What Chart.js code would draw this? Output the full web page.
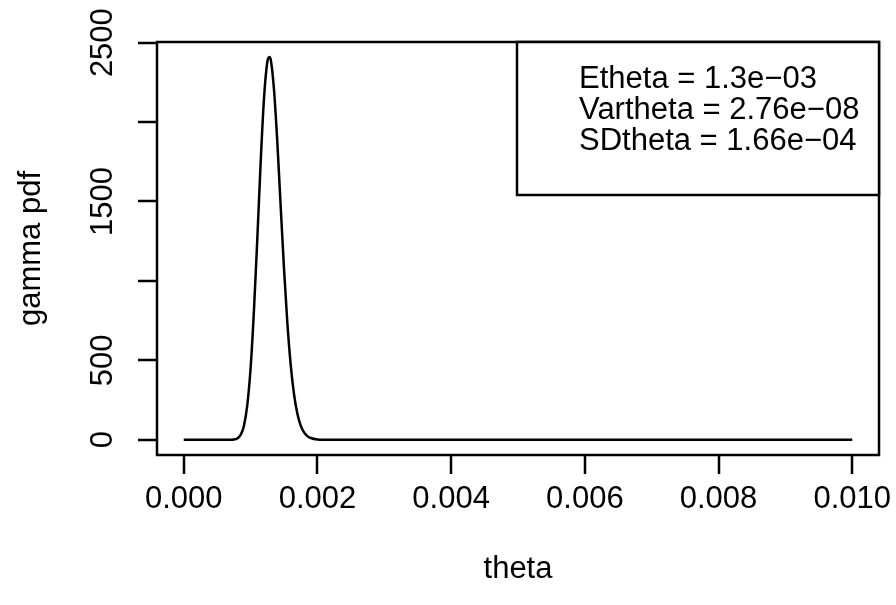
<!DOCTYPE html>
<html>
<head>
<meta charset="utf-8">
<script src="https://cdn.jsdelivr.net/npm/chart.js@4"></script>
<style>
  html, body { margin: 0; padding: 0; background: #fff; }
  canvas { display: block; }
</style>
</head>
<body>
<canvas id="gammaChart" width="896" height="605"></canvas>
<script>
// curve (theta, density)
const thetaVals = [0, 0.0005, 0.0006, 0.0007, 0.00075, 0.0008, 0.00085, 0.0009, 0.00095,
  0.001, 0.00105, 0.0011, 0.00115, 0.0012, 0.00125, 0.00128, 0.0013, 0.00135, 0.0014,
  0.00145, 0.0015, 0.00155, 0.0016, 0.00165, 0.0017, 0.00175, 0.0018, 0.00185, 0.0019,
  0.002, 0.0021, 0.0025, 0.003, 0.005, 0.0075, 0.01];
const pdfVals = [0, 0, 0, 0.3, 2, 8, 30, 87, 217,
  450, 812, 1260, 1740, 2145, 2378, 2410, 2395, 2205, 1872,
  1470, 1075, 735, 472, 286, 164, 89, 46, 23, 11,
  2, 0.4, 0, 0, 0, 0, 0];

const xTicks = [0, 0.002, 0.004, 0.006, 0.008, 0.010];
const xTickLabels = ['0.000', '0.002', '0.004', '0.006', '0.008', '0.010'];
const yTicks = [0, 500, 1000, 1500, 2000, 2500];
const yTickLabels = ['0', '500', '', '1500', '', '2500']; // R drops the ones that collide

const xTitle = 'theta';
const yTitle = 'gamma pdf';
const legendLines = ['Etheta = 1.3e\u221203', 'Vartheta = 2.76e\u221208', 'SDtheta = 1.66e\u221204'];

const FONT = '31px "Liberation Sans", Arial, sans-serif';
const LW = 2.5;

// base-R style box, ticks, labels and legend
const rAxes = {
  id: 'rAxes',
  afterDraw(chart) {
    const c = chart.ctx;
    const a = chart.chartArea;
    const xs = chart.scales.x;
    const ys = chart.scales.y;
    c.save();
    c.strokeStyle = '#000';
    c.fillStyle = '#000';
    c.lineWidth = LW;
    c.strokeRect(a.left, a.top, a.right - a.left, a.bottom - a.top);

    c.font = FONT;
    // x axis
    c.beginPath();
    xTicks.forEach(v => {
      const px = Math.round(xs.getPixelForValue(v));
      c.moveTo(px, a.bottom);
      c.lineTo(px, a.bottom + 19);
    });
    c.stroke();
    c.textAlign = 'center';
    c.textBaseline = 'alphabetic';
    xTicks.forEach((v, i) => c.fillText(xTickLabels[i], xs.getPixelForValue(v), a.bottom + 53));
    c.fillText(xTitle, (a.left + a.right) / 2, a.bottom + 123);

    // y axis
    c.beginPath();
    yTicks.forEach(v => {
      const py = Math.round(ys.getPixelForValue(v));
      c.moveTo(a.left, py);
      c.lineTo(a.left - 19, py);
    });
    c.stroke();
    yTicks.forEach((v, i) => {
      if (!yTickLabels[i]) return;
      c.save();
      c.translate(a.left - 45, ys.getPixelForValue(v));
      c.rotate(-Math.PI / 2);
      c.fillText(yTickLabels[i], 0, 0);
      c.restore();
    });
    c.save();
    c.translate(a.left - 117, (a.top + a.bottom) / 2);
    c.rotate(-Math.PI / 2);
    c.fillText(yTitle, 0, 0);
    c.restore();

    // legend, top right
    c.textAlign = 'left';
    const boxLeft = a.right - 362;
    const textLeft = boxLeft + 62;
    c.fillStyle = '#fff';
    c.fillRect(boxLeft, a.top, a.right - boxLeft, 153);
    c.strokeRect(boxLeft, a.top, a.right - boxLeft, 153);
    c.fillStyle = '#000';
    legendLines.forEach((s, i) => c.fillText(s, textLeft, a.top + 46 + i * 31));
    c.restore();
  }
};

const ctx = document.getElementById('gammaChart').getContext('2d');
const gammaChart = new Chart(ctx, {
  type: 'line',
  data: {
    datasets: [{
      data: thetaVals.map((t, i) => ({ x: t, y: pdfVals[i] })),
      borderColor: '#000',
      borderWidth: LW,
      pointRadius: 0,
      cubicInterpolationMode: 'monotone',
      fill: false
    }]
  },
  options: {
    responsive: false,
    devicePixelRatio: 1,
    animation: false,
    layout: {
      padding: { left: 157, right: 17, top: 42, bottom: 150 }
    },
    scales: {
      x: { type: 'linear', min: -0.0004, max: 0.0104, display: false },
      y: { min: -96, max: 2504, display: false }
    },
    plugins: {
      legend: { display: false },
      tooltip: { enabled: false }
    }
  },
  plugins: [rAxes]
});
</script>
</body>
</html>
